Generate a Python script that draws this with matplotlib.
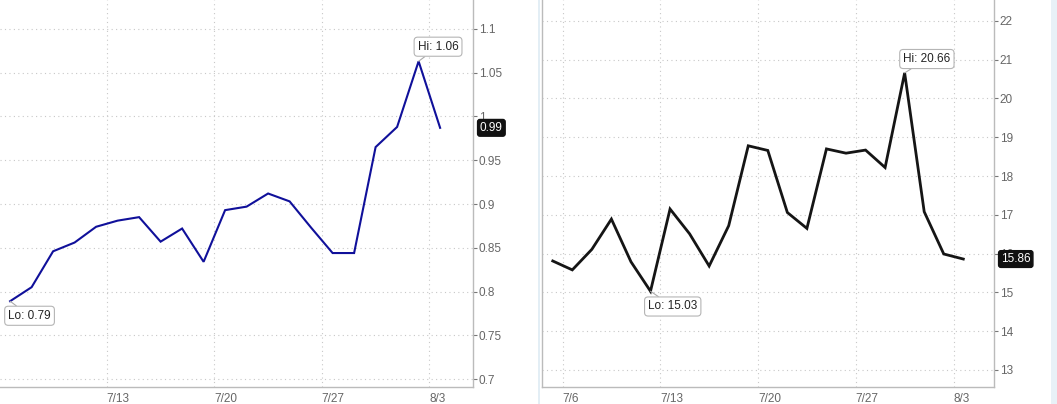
import matplotlib.pyplot as plt
import matplotlib.transforms as mtransforms
from matplotlib.patches import Rectangle

plt.rcParams['font.family'] = ['Liberation Sans', 'DejaVu Sans']

# left chart: 21 trading days, 7/6 .. 8/3
left_vals = [0.789, 0.805, 0.846, 0.856, 0.874, 0.881, 0.885, 0.857, 0.872, 0.834,
             0.893, 0.897, 0.912, 0.903, 0.873, 0.844, 0.844, 0.965, 0.988, 1.063, 0.987]
left_xticks = [4.5, 9.5, 14.5, 19.5]
left_xlabels = ['7/13', '7/20', '7/27', '8/3']
left_yticks = [0.7, 0.75, 0.8, 0.85, 0.9, 0.95, 1.0, 1.05, 1.1]
left_ylabels = ['0.7', '0.75', '0.8', '0.85', '0.9', '0.95', '1', '1.05', '1.1']
left_hi, left_lo, left_last = '1.06', '0.79', '0.99'

# right chart: 22 trading days, 7/3 .. 8/3
right_vals = [15.81, 15.58, 16.11, 16.89, 15.79, 15.03, 17.15, 16.51, 15.68, 16.72, 18.78,
              18.66, 17.06, 16.65, 18.70, 18.59, 18.67, 18.22, 20.66, 17.08, 15.99, 15.86]
right_xticks = [0.5, 5.5, 10.5, 15.5, 20.5]
right_xlabels = ['7/6', '7/13', '7/20', '7/27', '8/3']
right_yticks = [13, 14, 15, 16, 17, 18, 19, 20, 21, 22]
right_ylabels = ['13', '14', '15', '16', '17', '18', '19', '20', '21', '22']
right_hi, right_lo, right_last = '20.66', '15.03', '15.86'

W, H = 1057, 404
fig = plt.figure(figsize=(W / 100, H / 100), dpi=100)
fig.patch.set_facecolor('white')

# thin light blue separators like the page frame
fig.add_artist(Rectangle((538 / W, 0), 2 / W, 1, transform=fig.transFigure,
                         color='#e3eef5', lw=0))
fig.add_artist(Rectangle((1051 / W, 0), 6 / W, 1, transform=fig.transFigure,
                         color='#e8f1f7', lw=0))

axl = fig.add_axes([0, 1 - 387 / H, 473 / W, 387 / H])
axr = fig.add_axes([542 / W, 1 - 387 / H, (994 - 542) / W, 387 / H])


def style(ax, vals, color, lw, xt, xl, yt, yl, xlim, ylim, hi, lo, last, hi_off, lo_off, left_spine):
    xs = list(range(len(vals)))
    ax.plot(xs, vals, color=color, lw=lw, solid_joinstyle='miter', zorder=3)
    ax.set_xlim(*xlim)
    ax.set_ylim(*ylim)
    ax.set_xticks(xt)
    ax.set_xticklabels(xl, ha='left')
    ax.set_yticks(yt)
    ax.set_yticklabels(yl)
    ax.yaxis.tick_right()
    ax.tick_params(axis='y', colors='#777777', labelsize=8.5, length=3, width=0.8, pad=1)
    ax.tick_params(axis='x', colors='#777777', labelsize=8.5, length=0, pad=4)
    for lab in ax.get_xticklabels():
        lab.set_color('#666666')
    for lab in ax.get_yticklabels():
        lab.set_color('#666666')
    ax.grid(True, color='#c8c8c8', ls=(0, (1, 3)), lw=0.8)
    ax.set_axisbelow(True)
    for s in ['top']:
        ax.spines[s].set_visible(False)
    ax.spines['left'].set_visible(left_spine)
    for s in ['bottom', 'right', 'left']:
        ax.spines[s].set_color('#bbbbbb')
        ax.spines[s].set_linewidth(1)
    ax.patch.set_alpha(0)

    i_hi = vals.index(max(vals))
    i_lo = vals.index(min(vals))
    box = dict(boxstyle='round,pad=0.3,rounding_size=0.3', fc='white', ec='#b5b5b5', lw=0.8)
    arr = dict(arrowstyle='-', color='#aaaaaa', lw=0.8, shrinkA=0, shrinkB=0)
    ax.annotate('Hi: ' + hi, xy=(i_hi, vals[i_hi]), xytext=hi_off, textcoords='offset points',
                ha='center', va='center', fontsize=8.5, color='#222222', bbox=box,
                arrowprops=arr, zorder=5)
    ax.annotate('Lo: ' + lo, xy=(i_lo, vals[i_lo]), xytext=lo_off, textcoords='offset points',
                ha='center', va='center', fontsize=8.5, color='#222222', bbox=box,
                arrowprops=arr, zorder=5)
    tr = mtransforms.blended_transform_factory(ax.transAxes, ax.transData)
    ax.annotate(last, xy=(1, vals[-1]), xycoords=tr, xytext=(5, 0), textcoords='offset points',
                ha='left', va='center', fontsize=8.5, color='white',
                bbox=dict(boxstyle='round,pad=0.2,rounding_size=0.2', fc='#111111', ec='#111111'),
                zorder=6, annotation_clip=False)


style(axl, left_vals, '#10109a', 1.5, left_xticks, left_xlabels, left_yticks, left_ylabels,
      (-0.47, 21.53), (0.691, 1.133), left_hi, left_lo, left_last, (14, 10.5), (14, -10.5), False)
style(axr, right_vals, '#151515', 2.0, right_xticks, right_xlabels, right_yticks, right_ylabels,
      (-0.55, 22.57), (12.56, 22.54), right_hi, right_lo, right_last, (16, 10), (16, -11), True)

fig.savefig('out.png', dpi=100)
